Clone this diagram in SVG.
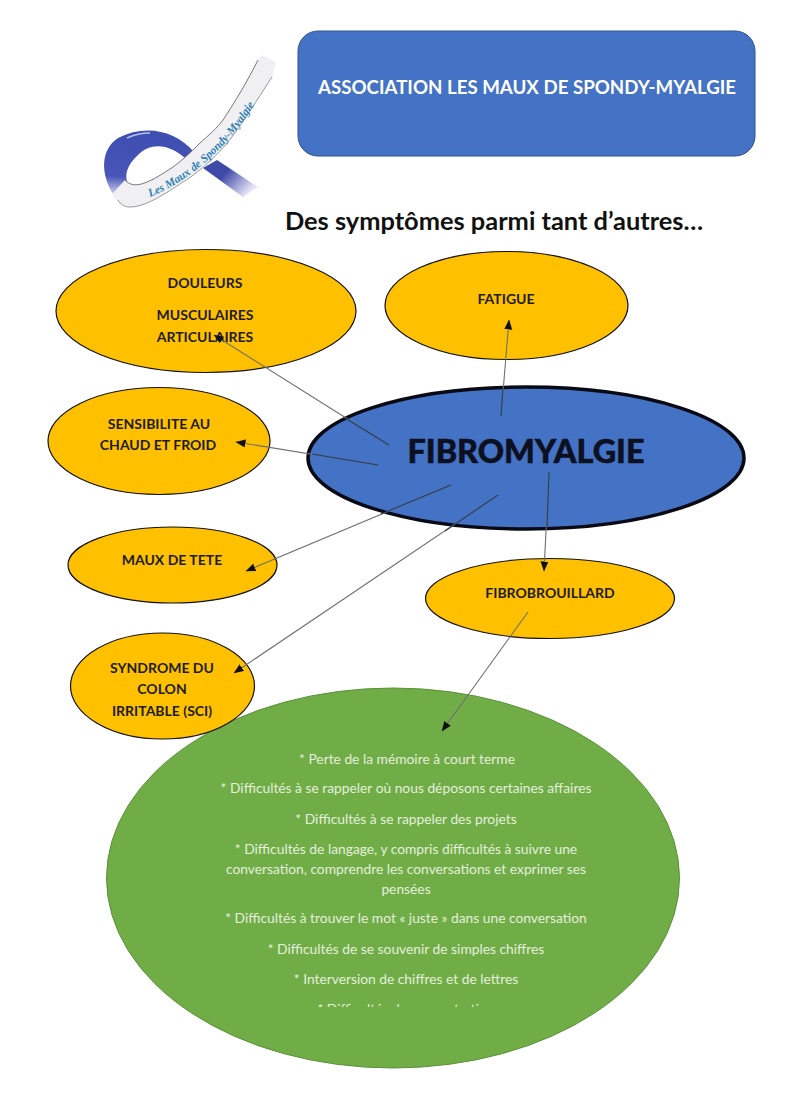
<svg xmlns="http://www.w3.org/2000/svg" width="800" height="1098" viewBox="0 0 800 1098">
<style>
text{font-family:"Lato","Liberation Sans",sans-serif}
.o{fill:#ffc000;stroke:#111;stroke-width:1.2}
.l{font-size:14px;font-weight:700;fill:#1c1c1c;text-anchor:middle}
.g{font-size:13.800px;fill:#e4efdc;text-anchor:middle}
.c{stroke:#6f6f6f;stroke-width:1.100;fill:none}
.d{stroke:#26405f;stroke-width:1.100;fill:none}
</style>
<defs>
<marker id="a" markerWidth="10" markerHeight="9" refX="9.500" refY="4" orient="auto" markerUnits="userSpaceOnUse"><path d="M0 0L10 4L0 8Z" fill="#111"/></marker>
<linearGradient id="t" x1="0" y1="0" x2="1" y2="0.6"><stop offset="0.45" stop-color="#3f4aa8"/><stop offset="1" stop-color="#e8e6f8"/></linearGradient>
<linearGradient id="b" x1="0.3" y1="0" x2="0.2" y2="1"><stop offset="0" stop-color="#3d4db0"/><stop offset="0.7" stop-color="#4a55b8"/><stop offset="1" stop-color="#dcdcf5"/></linearGradient>
<clipPath id="cl"><rect x="100" y="740" width="600" height="267"/></clipPath>
<path id="rp" d="M150 197C190 181 232 145 262 92"/>
</defs>
<rect width="800" height="1098" fill="#fff"/>
<g id="logo">
<path d="M217 160L258 187L243 197L203 168Z" fill="url(#t)"/>
<path d="M115 197C100 175 100 150 118 138C145 124 175 130 194 152L187 160C170 143 150 142 138 155C127 165 124 175 128 184Z" fill="url(#b)"/>
<path d="M127 138Q138 133 150 133" fill="none" stroke="#b9c0ec" stroke-width="1.500"/>
<path d="M262 55L276 62L272 77C262 92 250 112 237 130C220 155 195 175 183 182C165 194 145 207 130 207C122 207 117 204 112 194L125 180C130 186 138 186 147 182C157 178 165 172 173 167C185 158 192 151 200 143C210 134 217 128 223 120C235 102 248 80 258 60Z" fill="#f0f0f2"/>
<path d="M258 60C248 80 235 102 223 120C217 128 210 134 200 143C192 151 185 158 173 167C165 172 157 178 147 182C138 186 130 186 125 180" fill="none" stroke="#777" stroke-width="1"/>
<path d="M272 77C262 92 250 112 237 130C220 155 195 175 183 182C165 194 145 207 130 207C125 207 121 205 118 200" fill="none" stroke="#999" stroke-width="1"/>
<text font-size="11.500" font-style="italic" font-weight="700" fill="#2f7fb5" style="font-family:'Liberation Serif',serif"><textPath href="#rp">Les Maux de Spondy-Myalgie</textPath></text>
</g>
<g id="header">
<rect x="298" y="31" width="457" height="125" rx="20" fill="#4472c4" stroke="#2f528f" stroke-width="1"/>
<text x="527" y="94" font-size="18.700" font-weight="700" fill="#fff" text-anchor="middle">ASSOCIATION LES MAUX DE SPONDY-MYALGIE</text>
</g>
<text id="title" x="494" y="230" font-size="25.400" font-weight="700" fill="#111" text-anchor="middle">Des symptômes parmi tant d’autres…</text>
<g id="n-liste">
<ellipse cx="393" cy="878" rx="286.500" ry="190" fill="#70ad47" stroke="#5b8f39" stroke-width="1"/>
<g clip-path="url(#cl)">
<text class="g" x="407" y="764">* Perte de la mémoire à court terme</text>
<text class="g" x="406" y="793">* Difficultés à se rappeler où nous déposons certaines affaires</text>
<text class="g" x="406" y="824">* Difficultés à se rappeler des projets</text>
<text class="g" x="406" y="854">* Difficultés de langage, y compris difficultés à suivre une</text>
<text class="g" x="406" y="874">conversation, comprendre les conversations et exprimer ses</text>
<text class="g" x="406" y="894">pensées</text>
<text class="g" x="406" y="923">* Difficultés à trouver le mot « juste » dans une conversation</text>
<text class="g" x="406" y="954">* Difficultés de se souvenir de simples chiffres</text>
<text class="g" x="406" y="984">* Interversion de chiffres et de lettres</text>
<text class="g" x="406" y="1014">* Difficultés de concentration</text>
</g>
</g>
<g id="n-douleurs"><ellipse class="o" cx="206" cy="311" rx="150" ry="61.500"/><text class="l" x="205" y="288">DOULEURS</text><text class="l" x="205" y="320">MUSCULAIRES</text><text class="l" x="205" y="342">ARTICULAIRES</text></g>
<g id="n-fatigue"><ellipse class="o" cx="506.500" cy="305.500" rx="121.500" ry="54"/><text class="l" x="506" y="304">FATIGUE</text></g>
<g id="n-sensibilite"><ellipse class="o" cx="159" cy="441" rx="111" ry="53.500"/><text class="l" x="159" y="429">SENSIBILITE AU</text><text class="l" x="158" y="450">CHAUD ET FROID</text></g>
<g id="n-maux"><ellipse class="o" cx="172.500" cy="565" rx="104.500" ry="38"/><text class="l" x="172" y="565">MAUX DE TETE</text></g>
<g id="n-fibrobrouillard"><ellipse class="o" cx="550" cy="598.500" rx="124.500" ry="40"/><text class="l" x="550" y="598">FIBROBROUILLARD</text></g>
<g id="n-colon"><ellipse class="o" cx="162.500" cy="686" rx="92" ry="53"/><text class="l" x="162" y="673">SYNDROME DU</text><text class="l" x="162" y="694">COLON</text><text class="l" x="162" y="716">IRRITABLE (SCI)</text></g>
<g id="n-fibromyalgie"><ellipse cx="526" cy="458" rx="218" ry="71" fill="#4472c4" stroke="#0a0a14" stroke-width="3.500"/><text x="526" y="463" font-size="32.400" font-weight="900" fill="#0c1020" text-anchor="middle" stroke="#0c1020" stroke-width="0.500">FIBROMYALGIE</text></g>
<g id="connectors">
<path class="c" d="M389 445L214 335" marker-end="url(#a)"/>
<path class="c" d="M378 465L236 442" marker-end="url(#a)"/>
<path class="c" d="M451 485L246 571" marker-end="url(#a)"/>
<path class="c" d="M498 495L234 673" marker-end="url(#a)"/>
<path class="c" d="M501 416L509 320" marker-end="url(#a)"/>
<path class="c" d="M549 472L544 571" marker-end="url(#a)"/>
<path class="c" d="M528 612L442 731" marker-end="url(#a)"/>
<path class="d" d="M389 445L345 418M378 465L312 454M451 485L381 514M498 495L445 531M501 416L503 388M549 472L547 528"/>
</g>
</svg>
